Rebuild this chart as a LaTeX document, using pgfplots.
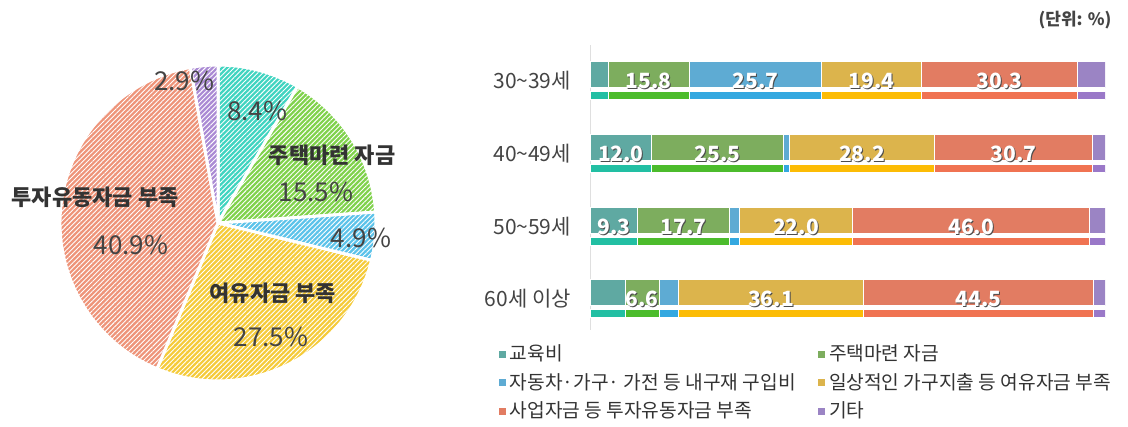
\documentclass[border=0pt]{standalone}
\usepackage{fontspec}
\setmainfont{Noto Sans CJK KR}
\usepackage{pgfplots}
\pgfplotsset{compat=1.18}
\usepackage{pgfplotstable}
\usetikzlibrary{patterns.meta}

% bar colours: muted top part / bright bottom strip
\definecolor{eduT}{HTML}{5FA9A2}\definecolor{eduB}{HTML}{22BFA3}
\definecolor{houT}{HTML}{7DAD5E}\definecolor{houB}{HTML}{4CBC2C}
\definecolor{carT}{HTML}{5EABD3}\definecolor{carB}{HTML}{34A8E0}
\definecolor{dayT}{HTML}{DCB44C}\definecolor{dayB}{HTML}{FCBC05}
\definecolor{bizT}{HTML}{E27C62}\definecolor{bizB}{HTML}{F07352}
\definecolor{etcT}{HTML}{9B84C4}\definecolor{etcB}{HTML}{9A78C8}
% pie colours
\definecolor{pEdu}{HTML}{40D4C0}\definecolor{pHou}{HTML}{80D24C}
\definecolor{pCar}{HTML}{5CC3EA}\definecolor{pDay}{HTML}{F5CB3A}
\definecolor{pBiz}{HTML}{EE9479}\definecolor{pEtc}{HTML}{AA8AD4}
\definecolor{txt}{HTML}{333333}\definecolor{lab}{HTML}{444444}

\pgfplotstableread{
ytop ybot edu house car daily biz etc
-75  -96  3.5  15.8 25.7 19.4 30.3 5.3
-148 -169 12.0 25.5 1.2  28.2 30.7 2.4
-221 -242 9.3  17.7 2.0  22.0 46.0 3.0
-293 -314 6.8  6.6  3.7  36.1 44.5 2.3
}\bars

\pgfplotstableread{
x y lab
11.4 -81 15.8
32.15 -81 25.7
54.7 -81 19.4
79.55 -81 30.3
6.0 -154 12.0
24.75 -154 25.5
52.8 -154 28.2
82.25 -154 30.7
4.65 -227 9.3
18.15 -227 17.7
40.0 -227 22.0
74.0 -227 46.0
10.1 -299 6.6
35.15 -299 36.1
75.45 -299 44.5
}\labs

\pgfplotsset{barax/.style={scale only axis, width=257.5pt, height=142.5pt,
  xmin=0, xmax=100, ymin=-330, ymax=-45, at={(295pt,48.5pt)}, anchor=south west}}
\tikzset{slice/.style={fill=#1, draw=white, line width=1.5pt,
  postaction={pattern={Lines[angle=45,distance=1.7pt,line width=0.45pt]}, pattern color=white, fill opacity=0.2}}}

\begin{document}
\begin{tikzpicture}
\path[use as bounding box] (0,0) rectangle (564pt,213.5pt);

% pie values
\def\vA{8.4}\def\vB{15.5}\def\vC{4.9}\def\vD{27.5}\def\vE{40.9}\def\vF{2.9}
\pgfmathsetmacro\aA{90-3.6*\vA}
\pgfmathsetmacro\aB{\aA-3.6*\vB}
\pgfmathsetmacro\aC{\aB-3.6*\vC}
\pgfmathsetmacro\aD{\aC-3.6*\vD}
\pgfmathsetmacro\aE{\aD-3.6*\vE}

\begin{axis}[at={(109pt,102pt)}, anchor=center, scale only axis, width=158pt, height=158pt,
  xmin=-1, xmax=1, ymin=-1, ymax=1, hide axis, clip=false]
\path[slice=pEdu] (axis cs:0,0) -- (axis cs:{cos(90)},{sin(90)}) arc[start angle=90, end angle=\aA, radius=79pt] -- cycle;
\path[slice=pHou] (axis cs:0,0) -- (axis cs:{cos(\aA)},{sin(\aA)}) arc[start angle=\aA, end angle=\aB, radius=79pt] -- cycle;
\path[slice=pCar] (axis cs:0,0) -- (axis cs:{cos(\aB)},{sin(\aB)}) arc[start angle=\aB, end angle=\aC, radius=79pt] -- cycle;
\path[slice=pDay] (axis cs:0,0) -- (axis cs:{cos(\aC)},{sin(\aC)}) arc[start angle=\aC, end angle=\aD, radius=79pt] -- cycle;
\path[slice=pBiz] (axis cs:0,0) -- (axis cs:{cos(\aD)},{sin(\aD)}) arc[start angle=\aD, end angle=\aE, radius=79pt] -- cycle;
\path[slice=pEtc] (axis cs:0,0) -- (axis cs:{cos(\aE)},{sin(\aE)}) arc[start angle=\aE, end angle=-270, radius=79pt] -- cycle;

\begin{scope}[every node/.style={text=lab, font=\fontsize{13}{15}\selectfont}]
\node at (axis cs:-0.215,0.899) {2.9\%};
\node at (axis cs:0.247,0.709) {8.4\%};
\node at (axis cs:0.620,0.196) {15.5\%};
\node at (axis cs:0.905,-0.095) {4.9\%};
\node at (axis cs:-0.551,-0.139) {40.9\%};
\node at (axis cs:0.335,-0.722) {27.5\%};
\end{scope}
\begin{scope}[every node/.style={text=txt, font=\bfseries\fontsize{11}{13}\selectfont}]
\node at (axis cs:0.722,0.430) {주택마련 자금};
\node at (axis cs:-0.778,0.165) {투자유동자금 부족};
\node at (axis cs:0.348,-0.443) {여유자금 부족};
\end{scope}
\end{axis}

% bar chart: upper part, axis line, ticks and legend
\begin{axis}[barax, xbar stacked, bar width=13pt,
  axis x line=none, axis y line*=left, y axis line style={gray!25},
  ytick={-81,-154,-227,-299},
  yticklabels={30\textasciitilde39세, 40\textasciitilde49세, 50\textasciitilde59세, 60세 이상},
  major tick length=0pt,
  yticklabel style={text=lab, font=\fontsize{10.5}{12}\selectfont, xshift=-6pt},
  legend columns=2,
  legend cell align=left,
  legend image code/.code={\fill[#1,draw=none] (0pt,-1.8pt) rectangle (3.6pt,1.8pt);},
  legend style={at={(axis description cs:-0.19,-0.022)}, anchor=north west, draw=none, fill=none,
    font=\fontsize{9.6}{12}\selectfont, text=txt, row sep=0.9pt,
    nodes={inner xsep=2pt},
    /tikz/every even column/.append style={column sep=9pt}},
  ]
\addplot[fill=eduT, draw=white, line width=0.5pt] table[x=edu, y=ytop]{\bars};
\addplot[fill=houT, draw=white, line width=0.5pt] table[x=house, y=ytop]{\bars};
\addplot[fill=carT, draw=white, line width=0.5pt] table[x=car, y=ytop]{\bars};
\addplot[fill=dayT, draw=white, line width=0.5pt] table[x=daily, y=ytop]{\bars};
\addplot[fill=bizT, draw=white, line width=0.5pt] table[x=biz, y=ytop]{\bars};
\addplot[fill=etcT, draw=white, line width=0.5pt] table[x=etc, y=ytop]{\bars};
\legend{교육비, 주택마련 자금, 자동차·가구· 가전 등 내구재 구입비, 일상적인 가구지출 등 여유자금 부족, 사업자금 등 투자유동자금 부족, 기타}
\end{axis}

% bar chart: lower bright strip
\begin{axis}[barax, xbar stacked, bar width=4pt, hide axis]
\addplot[fill=eduB, draw=white, line width=0.5pt] table[x=edu, y=ybot]{\bars};
\addplot[fill=houB, draw=white, line width=0.5pt] table[x=house, y=ybot]{\bars};
\addplot[fill=carB, draw=white, line width=0.5pt] table[x=car, y=ybot]{\bars};
\addplot[fill=dayB, draw=white, line width=0.5pt] table[x=daily, y=ybot]{\bars};
\addplot[fill=bizB, draw=white, line width=0.5pt] table[x=biz, y=ybot]{\bars};
\addplot[fill=etcB, draw=white, line width=0.5pt] table[x=etc, y=ybot]{\bars};
\end{axis}

% value labels
\begin{axis}[barax, hide axis, clip=false]
\addplot[draw=none, mark=none, nodes near coords, point meta=explicit symbolic,
  nodes near coords style={anchor=center, text=black!70, font=\bfseries\fontsize{10.5}{12}\selectfont, xshift=0.5pt, yshift=-0.5pt}]
  table[x=x, y=y, meta=lab]{\labs};
\addplot[draw=none, mark=none, nodes near coords, point meta=explicit symbolic,
  nodes near coords style={anchor=center, text=white, font=\bfseries\fontsize{10.5}{12}\selectfont}]
  table[x=x, y=y, meta=lab]{\labs};
\end{axis}

\node[text=lab, font=\bfseries\fontsize{8.5}{10}\selectfont] at (537.5pt,203.5pt) {(단위: \%)};
\end{tikzpicture}
\end{document}
